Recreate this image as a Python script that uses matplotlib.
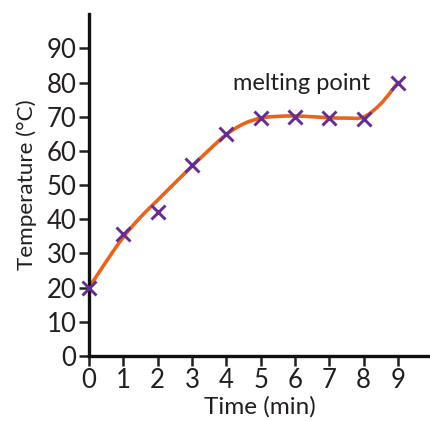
import numpy as np
import matplotlib
matplotlib.use("Agg")
import matplotlib.pyplot as plt
from matplotlib.path import Path
from matplotlib.patches import PathPatch

plt.rcParams["font.family"] = ["Lato", "DejaVu Sans"]

# measured temperatures
time_min = [0, 1, 2, 3, 4, 5, 6, 7, 8, 9]
temp_c = [20, 35.6, 42.2, 56, 65, 69.6, 70, 69.6, 69.3, 79.9]

# hand-drawn line of best fit, read every half minute
fit_time = [0, 0.5, 1, 1.5, 2, 2.5, 3, 3.5, 4, 4.5, 5, 5.5, 6, 6.5, 7, 7.5, 8, 8.5, 9]
fit_temp = [20, 27.6, 34.8, 40.6, 45.6, 50.6, 55.5, 60.3, 64.8, 67.9, 69.6, 70.1,
            70.2, 70, 69.7, 69.6, 69.9, 73.8, 80]

ORANGE = "#e8641b"
PURPLE = "#662d91"
INK = "#231f20"


def smooth_path(xs, ys):
    """Catmull-Rom knots turned into cubic bezier segments."""
    pts = np.column_stack([xs, ys]).astype(float)
    verts = [pts[0]]
    codes = [Path.MOVETO]
    n = len(pts)
    for i in range(n - 1):
        p0 = pts[max(i - 1, 0)]
        p1 = pts[i]
        p2 = pts[i + 1]
        p3 = pts[min(i + 2, n - 1)]
        verts += [p1 + (p2 - p0) / 6, p2 - (p3 - p1) / 6, p2]
        codes += [Path.CURVE4] * 3
    return Path(verts, codes)


fig = plt.figure(figsize=(4.31, 4.21), dpi=100)
ax = fig.add_axes([0.2065, 0.1544, 0.791, 0.812])

ax.add_patch(PathPatch(smooth_path(fit_time, fit_temp), fill=False,
                       edgecolor=ORANGE, lw=2.6, capstyle="round", zorder=2))
ax.plot(time_min, temp_c, ls="none", marker="x", ms=10, mew=2.1,
        color=PURPLE, zorder=3, clip_on=False)

ax.text(6.18, 79.8, "melting point", fontsize=17, color=INK,
        ha="center", va="center")

ax.set_xlim(0, 9.93)
ax.set_ylim(0, 100)
ax.set_xticks(range(0, 10))
ax.set_yticks(range(0, 100, 10))
ax.tick_params(labelsize=18.5, length=7, width=1.8, colors=INK, pad=2)
for side in ["top", "right"]:
    ax.spines[side].set_visible(False)
for side in ["left", "bottom"]:
    ax.spines[side].set_linewidth(2.4)
    ax.spines[side].set_color("#111111")

ax.set_xlabel("Time (min)", fontsize=17.5, color=INK, labelpad=2)
ax.set_ylabel("Temperature (°C)", fontsize=16.2, color=INK, labelpad=7)

fig.savefig("out.png", dpi=100)
